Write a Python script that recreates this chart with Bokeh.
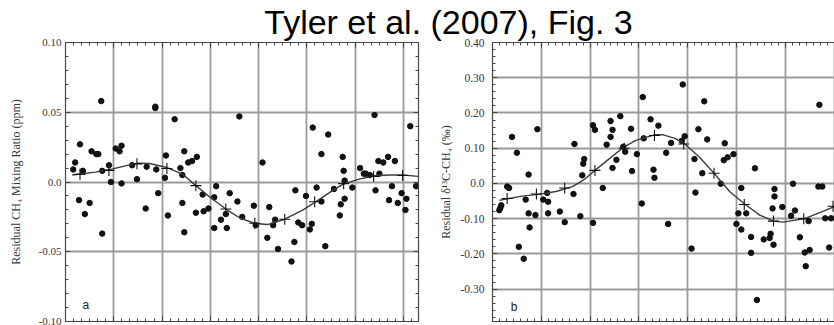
from bokeh.plotting import figure
from bokeh.models import (Div, LinearAxis, SingleIntervalTicker, CustomJSTickFormatter,
                          Range1d, Label, ColumnDataSource, Grid, CustomLabelingPolicy)
from bokeh.layouts import column, row
from bokeh.embed import file_html
from bokeh.resources import INLINE

# ---------------- data ----------------
TITLE = "Tyler et al. (2007), Fig. 3"

# Panel a: residual CH4 mixing ratio (ppm) vs day of year
ch4_day = [37, 93, 93, 113, 15, 27, 32, 34, 52, 58, 56, 123, 10, 8, 18, 38, 45, 69, 84, 94,
           104, 119, 103, 121, 47, 58, 74, 96, 14, 25, 20, 83, 106, 121, 38, 123,
           180, 127, 131, 136, 204, 238, 156, 142, 154, 170, 178, 195, 211, 135, 143, 148,
           166, 161, 183, 154, 167, 197, 217, 215, 241, 245, 209, 237, 220, 234,
           320, 357, 256, 272, 265, 287, 324, 329, 334, 341, 288, 305, 309, 311, 315, 325,
           289, 297, 278, 260, 321, 338, 363, 249, 265, 289, 285, 335, 344, 348, 353, 352,
           284, 255, 253, 269]
ch4_res = [0.058, 0.054, 0.053, 0.045, 0.027, 0.022, 0.020, 0.020, 0.024, 0.026, 0.022, 0.022,
           0.014, 0.009, 0.008, 0.008, 0.012, 0.012, 0.011, 0.009, 0.019, 0.010, 0.003, 0.005,
           0.000, -0.001, 0.002, -0.008, -0.013, -0.015, -0.023, -0.019, -0.024, -0.015, -0.037, -0.036,
           0.047, 0.014, 0.015, 0.018, 0.014, -0.006, -0.003, -0.009, -0.011, -0.008, -0.014, -0.017,
           -0.018, -0.022, -0.021, -0.019, -0.023, -0.027, -0.025, -0.033, -0.033, -0.031, -0.027,
           -0.031, -0.029, -0.031, -0.040, -0.043, -0.048, -0.057,
           0.048, 0.040, 0.039, 0.034, 0.020, 0.018, 0.015, 0.014, 0.018, 0.015, 0.008, 0.010,
           0.006, 0.006, 0.005, 0.006, 0.001, -0.004, -0.005, -0.004, -0.006, -0.003, -0.003,
           -0.010, -0.014, -0.012, -0.016, -0.013, -0.015, -0.008, -0.012, -0.020, -0.024,
           -0.030, -0.034, -0.046]

ch4_fit_day = [7, 31, 49, 74, 87, 104, 121, 135, 150, 166, 181, 197, 209, 227, 246, 259,
               276, 287, 304, 320, 335, 350, 365]
ch4_fit_val = [0.0050, 0.0071, 0.0094, 0.0135, 0.0133, 0.0106, 0.0057, -0.0026, -0.0111,
               -0.0194, -0.0260, -0.0298, -0.0305, -0.0267, -0.0200, -0.0142, -0.0064,
               -0.0017, 0.0021, 0.0045, 0.0050, 0.0050, 0.0040]

month_day = [15, 45, 74, 105, 135, 166, 196, 227, 258, 288, 319, 349]
ch4_month = [0.0055, 0.0083, 0.0130, 0.0097, -0.0026, -0.0194, -0.0296, -0.0267,
             -0.0142, -0.0012, 0.0040, 0.0047]

# Panel b: residual d13C-CH4 (permil) vs day of year
d13c_day = [46, 20, 25, 103, 105, 84, 94, 93, 92, 37, 117, 15, 17, 113, 83, 56, 57, 52, 34, 9,
            8, 7, 37, 44, 57, 69, 74, 90, 103, 38, 27, 32,
            195, 154, 217, 131, 121, 123, 121, 142, 162, 170, 211, 220, 155, 183, 194, 197,
            134, 136, 178, 148, 127, 123, 165, 166, 143, 207, 215, 208, 153, 180, 204,
            335, 238, 237, 241, 247, 269, 234, 308, 334, 338, 255, 289, 289, 287, 297, 252,
            260, 306, 310, 324, 341, 347, 250, 255, 265, 278, 284, 285, 288, 315, 265, 320,
            325, 345, 321, 271]
d13c_res = [0.154, 0.132, 0.087, 0.165, 0.152, 0.112, 0.069, 0.056, 0.023, 0.025, 0.110,
            -0.009, -0.013, -0.013, -0.030, -0.027, -0.052, -0.046, -0.046, -0.062,
            -0.070, -0.076, -0.085, -0.090, -0.085, -0.080, -0.110, -0.093, -0.112, -0.125,
            -0.180, -0.214,
            0.281, 0.245, 0.233, 0.191, 0.177, 0.152, 0.132, 0.155, 0.182, 0.164, 0.154,
            0.125, 0.128, 0.115, 0.121, 0.134, 0.104, 0.090, 0.087, 0.083, 0.067, 0.044,
            0.039, 0.016, 0.035, 0.069, 0.029, -0.026, -0.057, -0.115, -0.185,
            0.223, 0.114, 0.066, 0.074, 0.083, 0.043, -0.001, -0.001, -0.009, -0.009,
            -0.013, -0.016, -0.037, -0.071, -0.067, -0.085, -0.085, -0.092, -0.077, -0.107,
            -0.099, -0.099, -0.115, -0.131, -0.152, -0.159, -0.155, -0.143, -0.174, -0.153,
            -0.197, -0.196, -0.189, -0.182, -0.235, -0.331]

d13c_fit_day = [7, 30, 47, 65, 82, 95, 105, 117, 134, 147, 166, 175, 187, 197, 212, 227,
                243, 259, 274, 288, 298, 320, 336, 351]
d13c_fit_val = [-0.048, -0.036, -0.031, -0.023, -0.009, 0.013, 0.037, 0.064, 0.102, 0.122,
                0.138, 0.138, 0.128, 0.112, 0.075, 0.029, -0.023, -0.060, -0.090, -0.107,
                -0.110, -0.100, -0.082, -0.065]
d13c_month = [-0.043, -0.030, -0.013, 0.037, 0.100, 0.136, 0.112, 0.029, -0.060, -0.107,
              -0.100, -0.065]

# ---------------- styling ----------------
SERIF = "Liberation Serif"
SANS = "Liberation Sans"
FRAME = "#484848"
GRID = "#9a9a9a"
TXT = "#383838"

FMT = "return Math.abs(tick) < 1e-9 ? '0.0' : tick.toFixed(2);"
NO_LABELS = "return new Set()"


def style_axis(ax, labels, font_size="10px", standoff=4):
    ax.axis_line_color = FRAME
    ax.axis_line_width = 1.2
    ax.major_tick_line_color = FRAME
    ax.minor_tick_line_color = FRAME
    ax.major_tick_in = 5
    ax.major_tick_out = 0
    ax.minor_tick_in = 3
    ax.minor_tick_out = 0
    if labels:
        ax.major_label_text_font = SERIF
        ax.major_label_text_font_size = font_size
        ax.major_label_text_color = TXT
        ax.major_label_standoff = standoff
        ax.formatter = CustomJSTickFormatter(code=FMT)
    else:
        ax.major_label_policy = CustomLabelingPolicy(code=NO_LABELS)
        ax.major_label_text_font_size = "1px"
        ax.major_label_standoff = 0


def make_panel(width, height, xend, yr, yint, xminor, borders, days, vals,
               fit_d, fit_v, mon_v, ylabel, panel_letter, letter_pos, tick_size,
               lab_standoff, axlab_standoff, right_axis):
    p = figure(width=width, height=height, x_range=Range1d(0, xend), y_range=Range1d(*yr),
               output_backend="svg", toolbar_location=None,
               x_axis_location=None, y_axis_location=None,
               min_border_left=borders[0], min_border_right=borders[1],
               min_border_top=borders[2], min_border_bottom=borders[3])
    p.outline_line_color = None
    p.border_fill_color = None
    p.background_fill_color = "white"

    xt = SingleIntervalTicker(interval=50, num_minor_ticks=xminor)
    yt = SingleIntervalTicker(interval=yint, num_minor_ticks=5)

    p.add_layout(Grid(dimension=0, ticker=xt, grid_line_color=GRID, grid_line_width=1.8))
    p.add_layout(Grid(dimension=1, ticker=yt, grid_line_color=GRID, grid_line_width=1.8))

    left = LinearAxis(ticker=yt, axis_label=ylabel)
    style_axis(left, True, tick_size, lab_standoff)
    left.axis_label_text_font = SERIF
    left.axis_label_text_font_size = "12px"
    left.axis_label_text_font_style = "normal"
    left.axis_label_text_color = TXT
    left.axis_label_standoff = axlab_standoff
    p.add_layout(left, "left")

    bottom = LinearAxis(ticker=xt)
    style_axis(bottom, False)
    p.add_layout(bottom, "below")
    top = LinearAxis(ticker=xt)
    style_axis(top, False)
    p.add_layout(top, "above")
    if right_axis:
        right = LinearAxis(ticker=yt)
        style_axis(right, False)
        p.add_layout(right, "right")

    pts = ColumnDataSource(dict(x=days, y=vals))
    p.scatter("x", "y", source=pts, size=5.5, color="#111111", line_color="#111111")

    fit = ColumnDataSource(dict(x=fit_d, y=fit_v))
    p.line("x", "y", source=fit, line_color="#3c3c3c", line_width=1.4)

    mon = ColumnDataSource(dict(x=month_day, y=mon_v))
    p.scatter("x", "y", source=mon, marker="cross", size=11, line_color="#111111",
              line_width=1.1)

    p.add_layout(Label(x=letter_pos[0], y=letter_pos[1], text=panel_letter,
                       text_font=SANS, text_font_size="12px", text_color="#222222",
                       text_align="center", text_baseline="middle"))
    return p


p1 = make_panel(424, 289, 365.5, (-0.10, 0.10), 0.05, 6, (65, 6, 5, 3),
                ch4_day, ch4_res, ch4_fit_day, ch4_fit_val, ch4_month,
                "Residual CH\u2084 Mixing Ratio (ppm)", "a", (21, -0.088), "11px",
                4, 13, True)

p2 = make_panel(410, 289, 350.5, (-0.392, 0.40), 0.1, 7, (68, 0, 6, 0),
                d13c_day, d13c_res, d13c_fit_day, d13c_fit_val, d13c_month,
                "Residual \u03b4\u00b9\u00b3C-CH\u2084 (\u2030)", "b", (22, -0.351), "11.5px",
                8, 5, False)

title = Div(text=TITLE, width=834, height=36, margin=(0, 0, 0, 0),
            styles={"font-family": SANS, "font-size": "34px", "text-align": "center",
                    "text-indent": "63px", "line-height": "44px", "color": "#000000",
                    "white-space": "nowrap", "overflow": "visible"})

layout = column(title, row(p1, p2, spacing=0), spacing=0)

open("out.html", "w").write(file_html(layout, INLINE))
